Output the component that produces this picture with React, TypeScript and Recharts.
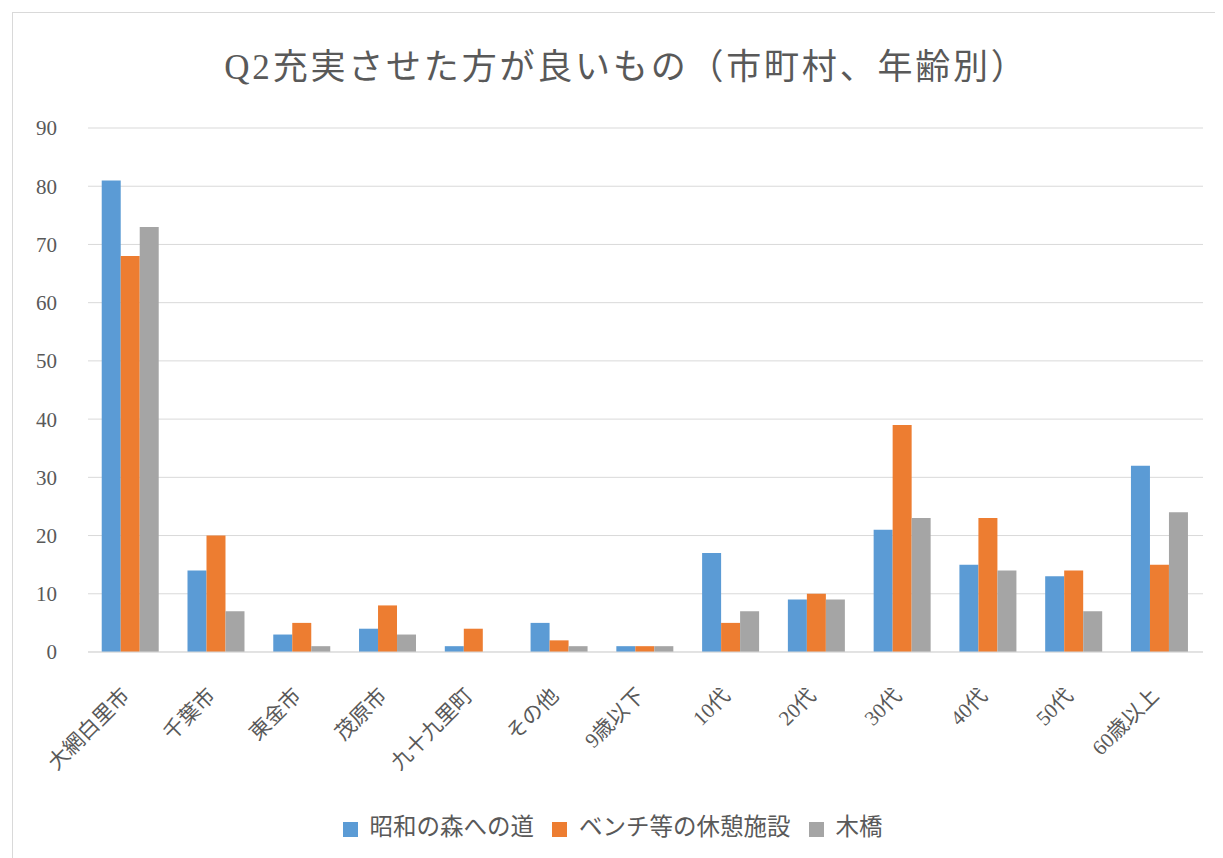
import { BarChart, Bar, XAxis, YAxis, CartesianGrid, Legend } from "recharts";

const categories = [
  "大網白里市",
  "千葉市",
  "東金市",
  "茂原市",
  "九十九里町",
  "その他",
  "9歳以下",
  "10代",
  "20代",
  "30代",
  "40代",
  "50代",
  "60歳以上",
];

const showaForest = [81, 14, 3, 4, 1, 5, 1, 17, 9, 21, 15, 13, 32];
const benchRest = [68, 20, 5, 8, 4, 2, 1, 5, 10, 39, 23, 14, 15];
const woodBridge = [73, 7, 1, 3, 0, 1, 1, 7, 9, 23, 14, 7, 24];

const seriesNames = ["昭和の森への道", "ベンチ等の休憩施設", "木橋"];

const yTicks = [0, 10, 20, 30, 40, 50, 60, 70, 80, 90];

const FONT = '"Liberation Serif", "Noto Sans CJK JP", serif';
const TEXT = "#595959";

const data = categories.map((name, i) => ({
  name,
  showa: showaForest[i],
  bench: benchRest[i],
  bridge: woodBridge[i],
}));

// rotated category label, anchored at its right end
const SlantTick = ({ x, y, payload }: any) => (
  <g transform={`translate(${x},${y + 37})`}>
    <text
      x={0}
      y={0}
      textAnchor="end"
      transform="rotate(-45)"
      fill={TEXT}
      fontSize={21}
      fontFamily={FONT}
    >
      {payload.value}
    </text>
  </g>
);

export default function App() {
  return (
    <div
      style={{
        position: "relative",
        marginLeft: 4,
        marginTop: 4,
        width: 1203,
        height: 860,
        border: "1px solid #d9d9d9",
        background: "#fff",
      }}
    >
      <div
        style={{
          position: "absolute",
          top: 25,
          left: 12,
          width: "100%",
          textAlign: "center",
          fontFamily: FONT,
          fontSize: 35,
          letterSpacing: 2.8,
          color: TEXT,
        }}
      >
        Q2充実させた方が良いもの（市町村、年齢別）
      </div>
      <BarChart
        width={1203}
        height={846}
        data={data}
        margin={{ top: 115, right: 13, left: 15, bottom: 17 }}
        barCategoryGap="16%"
        barGap={0}
      >
        <CartesianGrid vertical={false} stroke="#d9d9d9" />
        <XAxis
          dataKey="name"
          interval={0}
          height={156}
          axisLine={{ stroke: "#d9d9d9" }}
          tickLine={false}
          tick={<SlantTick />}
        />
        <YAxis
          domain={[0, 90]}
          ticks={yTicks}
          width={60}
          axisLine={false}
          tickLine={false}
          tickMargin={25}
          tick={{ fill: TEXT, fontSize: 21, fontFamily: FONT }}
        />
        <Legend
          verticalAlign="bottom"
          iconType="square"
          iconSize={15}
          itemSorter={(item: any) => seriesNames.indexOf(item.value)}
          wrapperStyle={{ fontFamily: FONT, fontSize: 23.5, paddingLeft: 6 }}
          formatter={(v) => (
            <span style={{ color: TEXT, marginLeft: 8, marginRight: 8 }}>{v}</span>
          )}
        />
        <Bar dataKey="showa" name={seriesNames[0]} fill="#5B9BD5" isAnimationActive={false} />
        <Bar dataKey="bench" name={seriesNames[1]} fill="#ED7D31" isAnimationActive={false} />
        <Bar dataKey="bridge" name={seriesNames[2]} fill="#A5A5A5" isAnimationActive={false} />
      </BarChart>
    </div>
  );
}
